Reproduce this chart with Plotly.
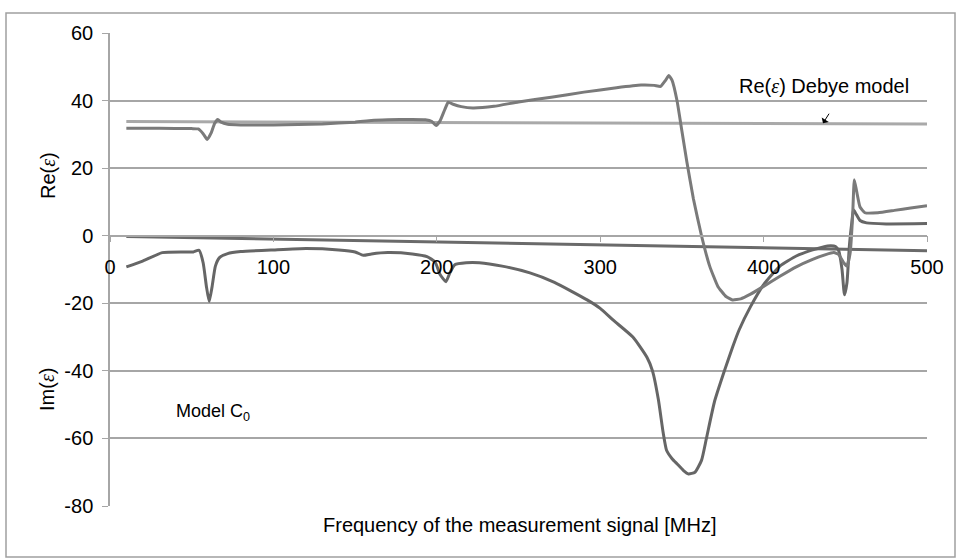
import plotly.graph_objects as go

# ---------------- data ----------------
re_freq = [10, 30, 50, 54, 57, 59.5, 62, 64, 66, 68, 72, 80, 100, 130, 150, 160, 170, 185, 193, 197,
           199.5, 202, 205, 207, 210, 215, 222, 235, 250, 270, 290, 310, 325, 333, 337, 340, 342,
           344, 347, 350, 353, 357, 362, 367, 372, 377, 381, 386, 392, 400, 410, 420, 430, 438,
           443, 446, 449, 451, 453, 454.5, 455.5, 457, 459, 462, 470, 480, 490, 500]
re_vals = [31.8, 31.8, 31.7, 31.6, 30.2, 28.5, 30.5, 33.2, 34.4, 33.6, 33.0, 32.8, 32.8, 33.1, 33.6, 34.1,
           34.3, 34.4, 34.3, 33.8, 32.6, 34.0, 37.5, 39.5, 38.9, 38.2, 37.8, 38.3, 39.6, 41.0, 42.5, 43.8,
           44.6, 44.5, 44.2, 46.0, 47.4, 46.0, 40.0, 31.0, 22.0, 11.0, 0.0, -9.0, -15.0, -18.0, -19.0,
           -18.7, -17.3, -15.0, -12.0, -9.2, -7.0, -5.6, -5.0, -5.6, -8.0, -9.0, -5.0, 6.0, 16.6, 13.0,
           8.5, 6.8, 6.8, 7.5, 8.2, 8.9]

im_freq = [10, 20, 32, 45, 51, 54.5, 57, 59, 60.7, 62.5, 64.5, 67, 72, 80, 100, 120, 140, 150, 155,
           160, 170, 185, 194, 199, 202, 205.6, 208, 211, 218, 226, 240, 257, 272, 292, 300, 308, 320,
           328.6, 332, 335.6, 338.6, 340.6, 344, 347, 351, 354, 358, 362, 365, 370, 376, 381, 385, 392,
           400, 410, 420, 430, 436, 441, 444, 446, 448, 449.5, 451, 452.5, 454, 455, 456.5, 459, 463,
           475, 500]
im_vals = [-9.2, -7.5, -5.0, -4.8, -4.8, -4.3, -8.0, -15.0, -19.5, -15.0, -9.0, -6.5, -5.3, -4.7, -4.2,
           -3.8, -4.2, -4.8, -5.8, -5.4, -5.0, -5.4, -6.2, -7.8, -11.5, -13.6, -11.0, -8.6, -8.0, -8.0,
           -9.0, -11.0, -13.8, -19.0, -21.5, -25.0, -30.0, -36.0, -40.0, -48.5, -58.5, -63.5, -66.0,
           -67.5, -69.5, -70.5, -70.0, -66.5, -60.0, -49.0, -40.0, -33.0, -27.9, -21.0, -14.5, -9.0,
           -6.0, -4.2, -3.4, -3.0, -3.2, -4.5, -10.0, -17.5, -14.0, -3.0, 4.0, 7.7, 6.5, 4.5, 3.8, 3.5,
           3.6]

deb_freq = [10, 100, 200, 300, 400, 500]
deb_re = [33.8, 33.7, 33.5, 33.4, 33.2, 33.1]
deb_im = [-0.2, -1.0, -1.85, -2.75, -3.6, -4.45]

y_ticks = [-80, -60, -40, -20, 0, 20, 40, 60]
x_ticks = [0, 100, 200, 300, 400, 500]

FONT = "Liberation Sans, Arial, sans-serif"
GRID = "#a6a6a6"
FS = 20

fig = go.Figure()
fig.add_trace(go.Scatter(x=deb_freq, y=deb_im, mode="lines",
                         line=dict(color="#6a6a6a", width=3), name="Im Debye"))
fig.add_trace(go.Scatter(x=im_freq, y=im_vals, mode="lines",
                         line=dict(color="#666666", width=3, shape="spline", smoothing=0.5), name="Im"))
fig.add_trace(go.Scatter(x=deb_freq, y=deb_re, mode="lines",
                         line=dict(color="#a9a9a9", width=3), name="Re Debye"))
fig.add_trace(go.Scatter(x=re_freq, y=re_vals, mode="lines",
                         line=dict(color="#7a7a7a", width=3, shape="spline", smoothing=0.4), name="Re"))

zero_pos = 80 / 140

fig.update_layout(
    width=961, height=558,
    margin=dict(l=110, r=34, t=33, b=52),
    paper_bgcolor="white", plot_bgcolor="white",
    showlegend=False,
    font=dict(family=FONT, size=FS, color="black"),
    xaxis=dict(range=[0, 500], tickvals=x_ticks, ticktext=[str(v) for v in x_ticks],
               showgrid=False, zeroline=False,
               showline=True, linecolor=GRID, linewidth=1.5,
               ticks="outside", ticklen=6, tickcolor=GRID,
               anchor="free", position=zero_pos, ticklabelstandoff=8,
               tickfont=dict(size=FS, family=FONT)),
    yaxis=dict(range=[-80, 60], tickvals=y_ticks, ticktext=[str(v) for v in y_ticks],
               showgrid=True, gridcolor=GRID, gridwidth=1.5, zeroline=False,
               showline=True, linecolor=GRID, linewidth=1.5,
               ticks="outside", ticklen=6, tickcolor=GRID, ticklabelstandoff=5,
               tickfont=dict(size=FS, family=FONT)),
)

# outer chart border
fig.add_shape(type="rect", xref="paper", yref="paper",
              x0=(6 - 110) / 817, x1=(955 - 110) / 817,
              y0=(506 - 557) / 473, y1=(506 - 13) / 473,
              line=dict(color="#a0a0a0", width=1.5), fillcolor="rgba(0,0,0,0)", layer="below")

EPS = '<span style="font-family:Liberation Serif"><i>ε</i></span>'

fig.add_annotation(xref="paper", yref="paper", x=(520 - 110) / 817, y=(506 - 525) / 473,
                   text="Frequency of the measurement signal [MHz]", showarrow=False,
                   font=dict(size=FS), xanchor="center", yanchor="middle")
fig.add_annotation(xref="paper", yref="paper", x=(48 - 110) / 817, y=(506 - 176) / 473,
                   text="Re(" + EPS + ")", textangle=-90, showarrow=False,
                   font=dict(size=FS), xanchor="center", yanchor="middle")
fig.add_annotation(xref="paper", yref="paper", x=(47 - 110) / 817, y=(506 - 390) / 473,
                   text="Im(" + EPS + ")", textangle=-90, showarrow=False,
                   font=dict(size=FS), xanchor="center", yanchor="middle")
fig.add_annotation(x=(824 - 110) / 1.634, y=(236 - 86) / 3.379,
                   text="Re(" + EPS + ") Debye model", showarrow=False,
                   font=dict(size=FS), xanchor="center", yanchor="middle")
fig.add_annotation(x=(823 - 110) / 1.634, y=33.3, ax=7, ay=-11,
                   text="", showarrow=True, arrowhead=1, arrowsize=1.4, arrowwidth=1,
                   arrowcolor="black")
fig.add_annotation(x=(213 - 110) / 1.634, y=(236 - 413) / 3.379,
                   text="Model C<sub>0</sub>", showarrow=False,
                   font=dict(size=18), xanchor="center", yanchor="middle")

fig.write_html("out.html")
